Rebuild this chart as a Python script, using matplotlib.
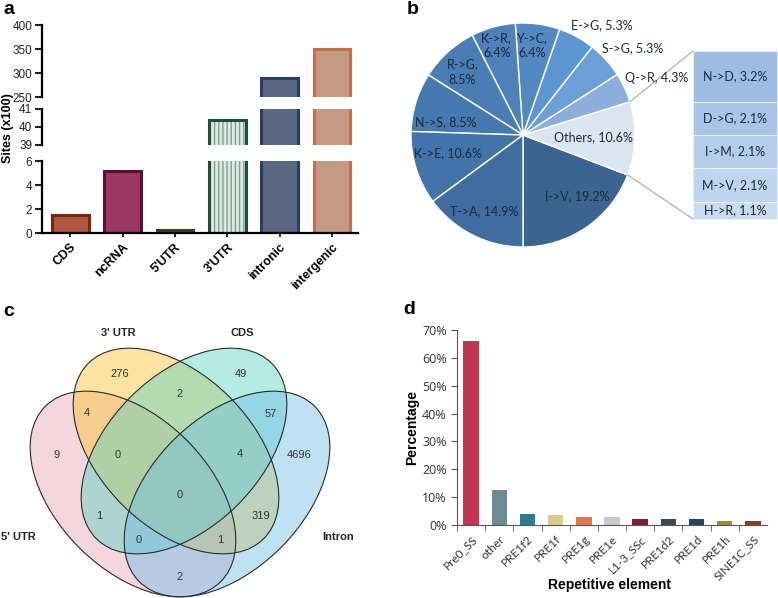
import numpy as np
import matplotlib
matplotlib.use('Agg')
import matplotlib.pyplot as plt
from matplotlib.patches import Ellipse

plt.rcParams['font.family'] = ['Liberation Sans', 'DejaVu Sans']
plt.rcParams['hatch.linewidth'] = 1.0

# ---- data ----
# a: sites per region (x100)
regions = ['CDS', 'ncRNA', "5'UTR", "3'UTR", 'intronic', 'intergenic']
sites = [1.5, 5.2, 0.25, 40.4, 290, 350]

# b: amino-acid changes (%)
aa_names = ['I->V', 'Others', 'Q->R', 'S->G', 'E->G', 'Y->C', 'K->R', 'R->G', 'N->S', 'K->E', 'T->A']
aa_pct = [19.2, 10.6, 4.3, 5.3, 5.3, 6.4, 6.4, 8.5, 8.5, 10.6, 14.9]
other_names = ['N->D', 'D->G', 'I->M', 'M->V', 'H->R']
other_pct = [3.2, 2.1, 2.1, 2.1, 1.1]

# c: venn counts
venn_sets = ["5' UTR", "3' UTR", 'CDS', 'Intron']
venn_counts = [276, 49, 4, 2, 57, 9, 0, 4, 4696, 0, 1, 319, 0, 1, 2]

# d: repetitive elements (%)
rep_names = ['Pre0_SS', 'other', 'PRE1f2', 'PRE1f', 'PRE1g', 'PRE1e', 'L1-3_SSc',
             'PRE1d2', 'PRE1d', 'PRE1h', 'SINE1C_SS']
rep_pct = [66.2, 12.5, 4.1, 3.5, 2.8, 2.8, 2.3, 2.2, 2.0, 1.5, 1.3]

# ---- figure ----
W, H = 778, 598
fig = plt.figure(figsize=(W / 100, H / 100), dpi=100)


def px_axes(x0, y0, x1, y1):
    return fig.add_axes([x0 / W, 1 - y1 / H, (x1 - x0) / W, (y1 - y0) / H])


# ---------- panel a ----------
fills = ['#b0573b', '#9c3760', '#5f7d35', '#dde8e1', '#586880', '#c39b83']
edges = ['#7a2511', '#5a1030', '#2e4a14', '#1d4d3b', '#2a3d62', '#c86d4b']
seg_px = [(25, 97), (109, 145), (161, 233)]
seg_lim = [(250, 400), (39, 41), (0, 6)]
seg_ticks = [[250, 300, 350, 400], [39, 40, 41], [0, 2, 4, 6]]
x = np.arange(len(regions))
for k, ((t, b), lim, ticks) in enumerate(zip(seg_px, seg_lim, seg_ticks)):
    ax = px_axes(42, t, 358, b)
    for i in range(len(regions)):
        if i == 3:
            ax.bar(x[i], sites[i], 0.7, color=fills[i], hatch='||||',
                   edgecolor='#7ea292', linewidth=0)
            ax.bar(x[i], sites[i], 0.7, fill=False, edgecolor=edges[i], linewidth=2.2)
        else:
            ax.bar(x[i], sites[i], 0.7, color=fills[i], edgecolor=edges[i], linewidth=2.2)
    ax.set_ylim(lim)
    ax.set_xlim(-0.54, 5.5)
    ax.set_yticks(ticks)
    ax.tick_params(axis='y', direction='out', length=5, width=1.5, labelsize=8.5,
                   colors='#222222', pad=2)
    for s in ['top', 'right']:
        ax.spines[s].set_visible(False)
    ax.spines['left'].set_linewidth(1.6)
    ax.patch.set_alpha(0)
    if k < 2:
        ax.spines['bottom'].set_visible(False)
        ax.set_xticks([])
    else:
        ax.spines['bottom'].set_linewidth(1.6)
        ax.set_xticks(x)
        ax.set_xticklabels(regions, rotation=45, ha='right', rotation_mode='anchor',
                           fontweight='bold', fontsize=9)
        ax.tick_params(axis='x', direction='out', length=3, width=1.2, pad=3)
fig.text(8 / W, 1 - 128 / H, 'Sites (x100)', rotation=90, fontweight='bold',
         fontsize=9, ha='center', va='center')

# ---------- panel b ----------
R = 112.0
axb = px_axes(390, 0, 778, 300)
pie_colors = ['#3b6590', '#dde5f1', '#8caedb', '#6b9fd6', '#5b96d3', '#5389c3',
              '#4f82bb', '#4a7db4', '#4679af', '#4274aa', '#3f6d9f']
wedges, _ = axb.pie(aa_pct, colors=pie_colors, startangle=270, counterclock=True,
                    radius=1, center=(0, 0),
                    wedgeprops=dict(edgecolor='white', linewidth=1.0))
label_r = [0.73, 0.63, 1.30, 1.25, 1.21, 0.80, 0.83, 0.78, 0.70, 0.69, 0.76]
label_shift = [7, 0, -2, -4, -7, 2, 1, 1.6, 8, -4, 0]
two_line = {'K->R', 'Y->C', 'R->G'}
for w, name, pct, r, sh in zip(wedges, aa_names, aa_pct, label_r, label_shift):
    ang = np.deg2rad((w.theta1 + w.theta2) / 2 + sh)
    sep = ',\n' if name in two_line else ', '
    axb.text(r * np.cos(ang), r * np.sin(ang), f'{name}{sep}{pct}%', ha='center',
             va='center', fontsize=9, family='Lato', color='#1b2a3c', linespacing=1.3)

bar_left, bar_right = (693 - 523) / R, (777 - 523) / R
bar_top, bar_bot = 84 / R, -84 / R
scale = (bar_top - bar_bot) / sum(other_pct)
sub_colors = ['#9dbce1', '#a9c5e7', '#b4cdea', '#bfd4ee', '#cadcf2']
cum = bar_top
for name, v, c in zip(other_names, other_pct, sub_colors):
    h = v * scale
    axb.bar((bar_left + bar_right) / 2, h, bar_right - bar_left, bottom=cum - h,
            color=c, edgecolor='#eef3fa', linewidth=0.6)
    axb.text((bar_left + bar_right) / 2, cum - h / 2, f'{name}, {v}%', ha='center',
             va='center', fontsize=9, family='Lato', color='#1b2a3c')
    cum -= h
others_w = wedges[aa_names.index('Others')]
for th, yb in [(others_w.theta2, bar_top), (others_w.theta1, bar_bot)]:
    a = np.deg2rad(th)
    axb.plot([np.cos(a), bar_left], [np.sin(a), yb], color='#a8a8a8', lw=0.8)
axb.set_xlim((390 - 523) / R, (778 - 523) / R)
axb.set_ylim((135 - 300) / R, 135 / R)
axb.set_aspect('auto')
axb.axis('off')

# ---------- panel c ----------
axc = px_axes(0, 300, 400, 598)
axc.set_xlim(0, 400)
axc.set_ylim(598, 300)
axc.axis('off')
ell = [((133, 494), 45, '#e9a2b6'),   # 5' UTR
       ((176, 451), 45, '#f9c42c'),   # 3' UTR
       ((184, 451), -45, '#59d3c4'),  # CDS
       ((227, 494), -45, '#6fbde5')]  # Intron
for (cxy, ang, col) in ell:
    axc.add_patch(Ellipse(cxy, 248, 152, angle=ang, facecolor=col, alpha=0.45,
                          edgecolor='none'))
for (cxy, ang, col) in ell:
    axc.add_patch(Ellipse(cxy, 248, 152, angle=ang, facecolor='none',
                          edgecolor='#2a2a2a', linewidth=0.8))
count_pos = [(120, 374), (241, 374), (87, 413), (180, 394), (271, 414),
             (57, 455), (118, 455), (240, 454), (299, 455), (180, 495),
             (99, 516), (261, 516), (139, 540), (220, 540), (180, 577)]
for (px, py), n in zip(count_pos, venn_counts):
    axc.text(px, py, str(n), ha='center', va='center', fontsize=8, color='#333333')
set_pos = [(18, 537), (118, 333), (242, 333), (338, 537)]
for (px, py), s in zip(set_pos, venn_sets):
    axc.text(px, py, s, ha='center', va='center', fontsize=8, fontweight='bold',
             color='#222222')

# ---------- panel d ----------
axd = px_axes(457, 330, 767, 525)
rep_colors = ['#c0374f', '#6e8b94', '#2f7a95', '#dccb8c', '#df7a50', '#c8c8c8',
              '#7a1e30', '#3d4a55', '#1f4a60', '#9a8a3a', '#8a3a22']
xd = np.arange(len(rep_names))
axd.bar(xd, rep_pct, 0.55, color=rep_colors)
axd.set_xlim(-0.5, len(rep_names) - 0.5)
axd.set_ylim(0, 70)
axd.set_yticks(range(0, 71, 10))
axd.set_yticklabels([f'{v}%' for v in range(0, 71, 10)], family='Open Sans',
                    fontsize=9, color='#333333')
axd.set_xticks(xd - 0.5, minor=True)
axd.set_xticks(xd)
axd.set_xticklabels(rep_names, rotation=45, ha='right', rotation_mode='anchor',
                    family='Lato', fontsize=8.5, color='#333333')
axd.tick_params(axis='x', which='major', length=0, pad=6)
axd.tick_params(axis='x', which='minor', length=4, direction='out', color='#555555')
axd.tick_params(axis='y', length=4, direction='out', color='#555555')
for s in ['top', 'right']:
    axd.spines[s].set_visible(False)
for s in ['left', 'bottom']:
    axd.spines[s].set_color('#555555')
axd.set_ylabel('Percentage', fontweight='bold', fontsize=10, labelpad=2)
fig.text(610 / W, 1 - 585 / H, 'Repetitive element', fontweight='bold', fontsize=10,
         ha='center', va='center')

# ---------- panel letters ----------
for lx, ly, s in [(3, 10, 'a'), (407, 9, 'b'), (3, 312, 'c'), (403, 310, 'd')]:
    fig.text(lx / W, 1 - ly / H, s, fontweight='bold', fontsize=14, ha='left',
             va='center')

fig.savefig('out.png', dpi=100)
